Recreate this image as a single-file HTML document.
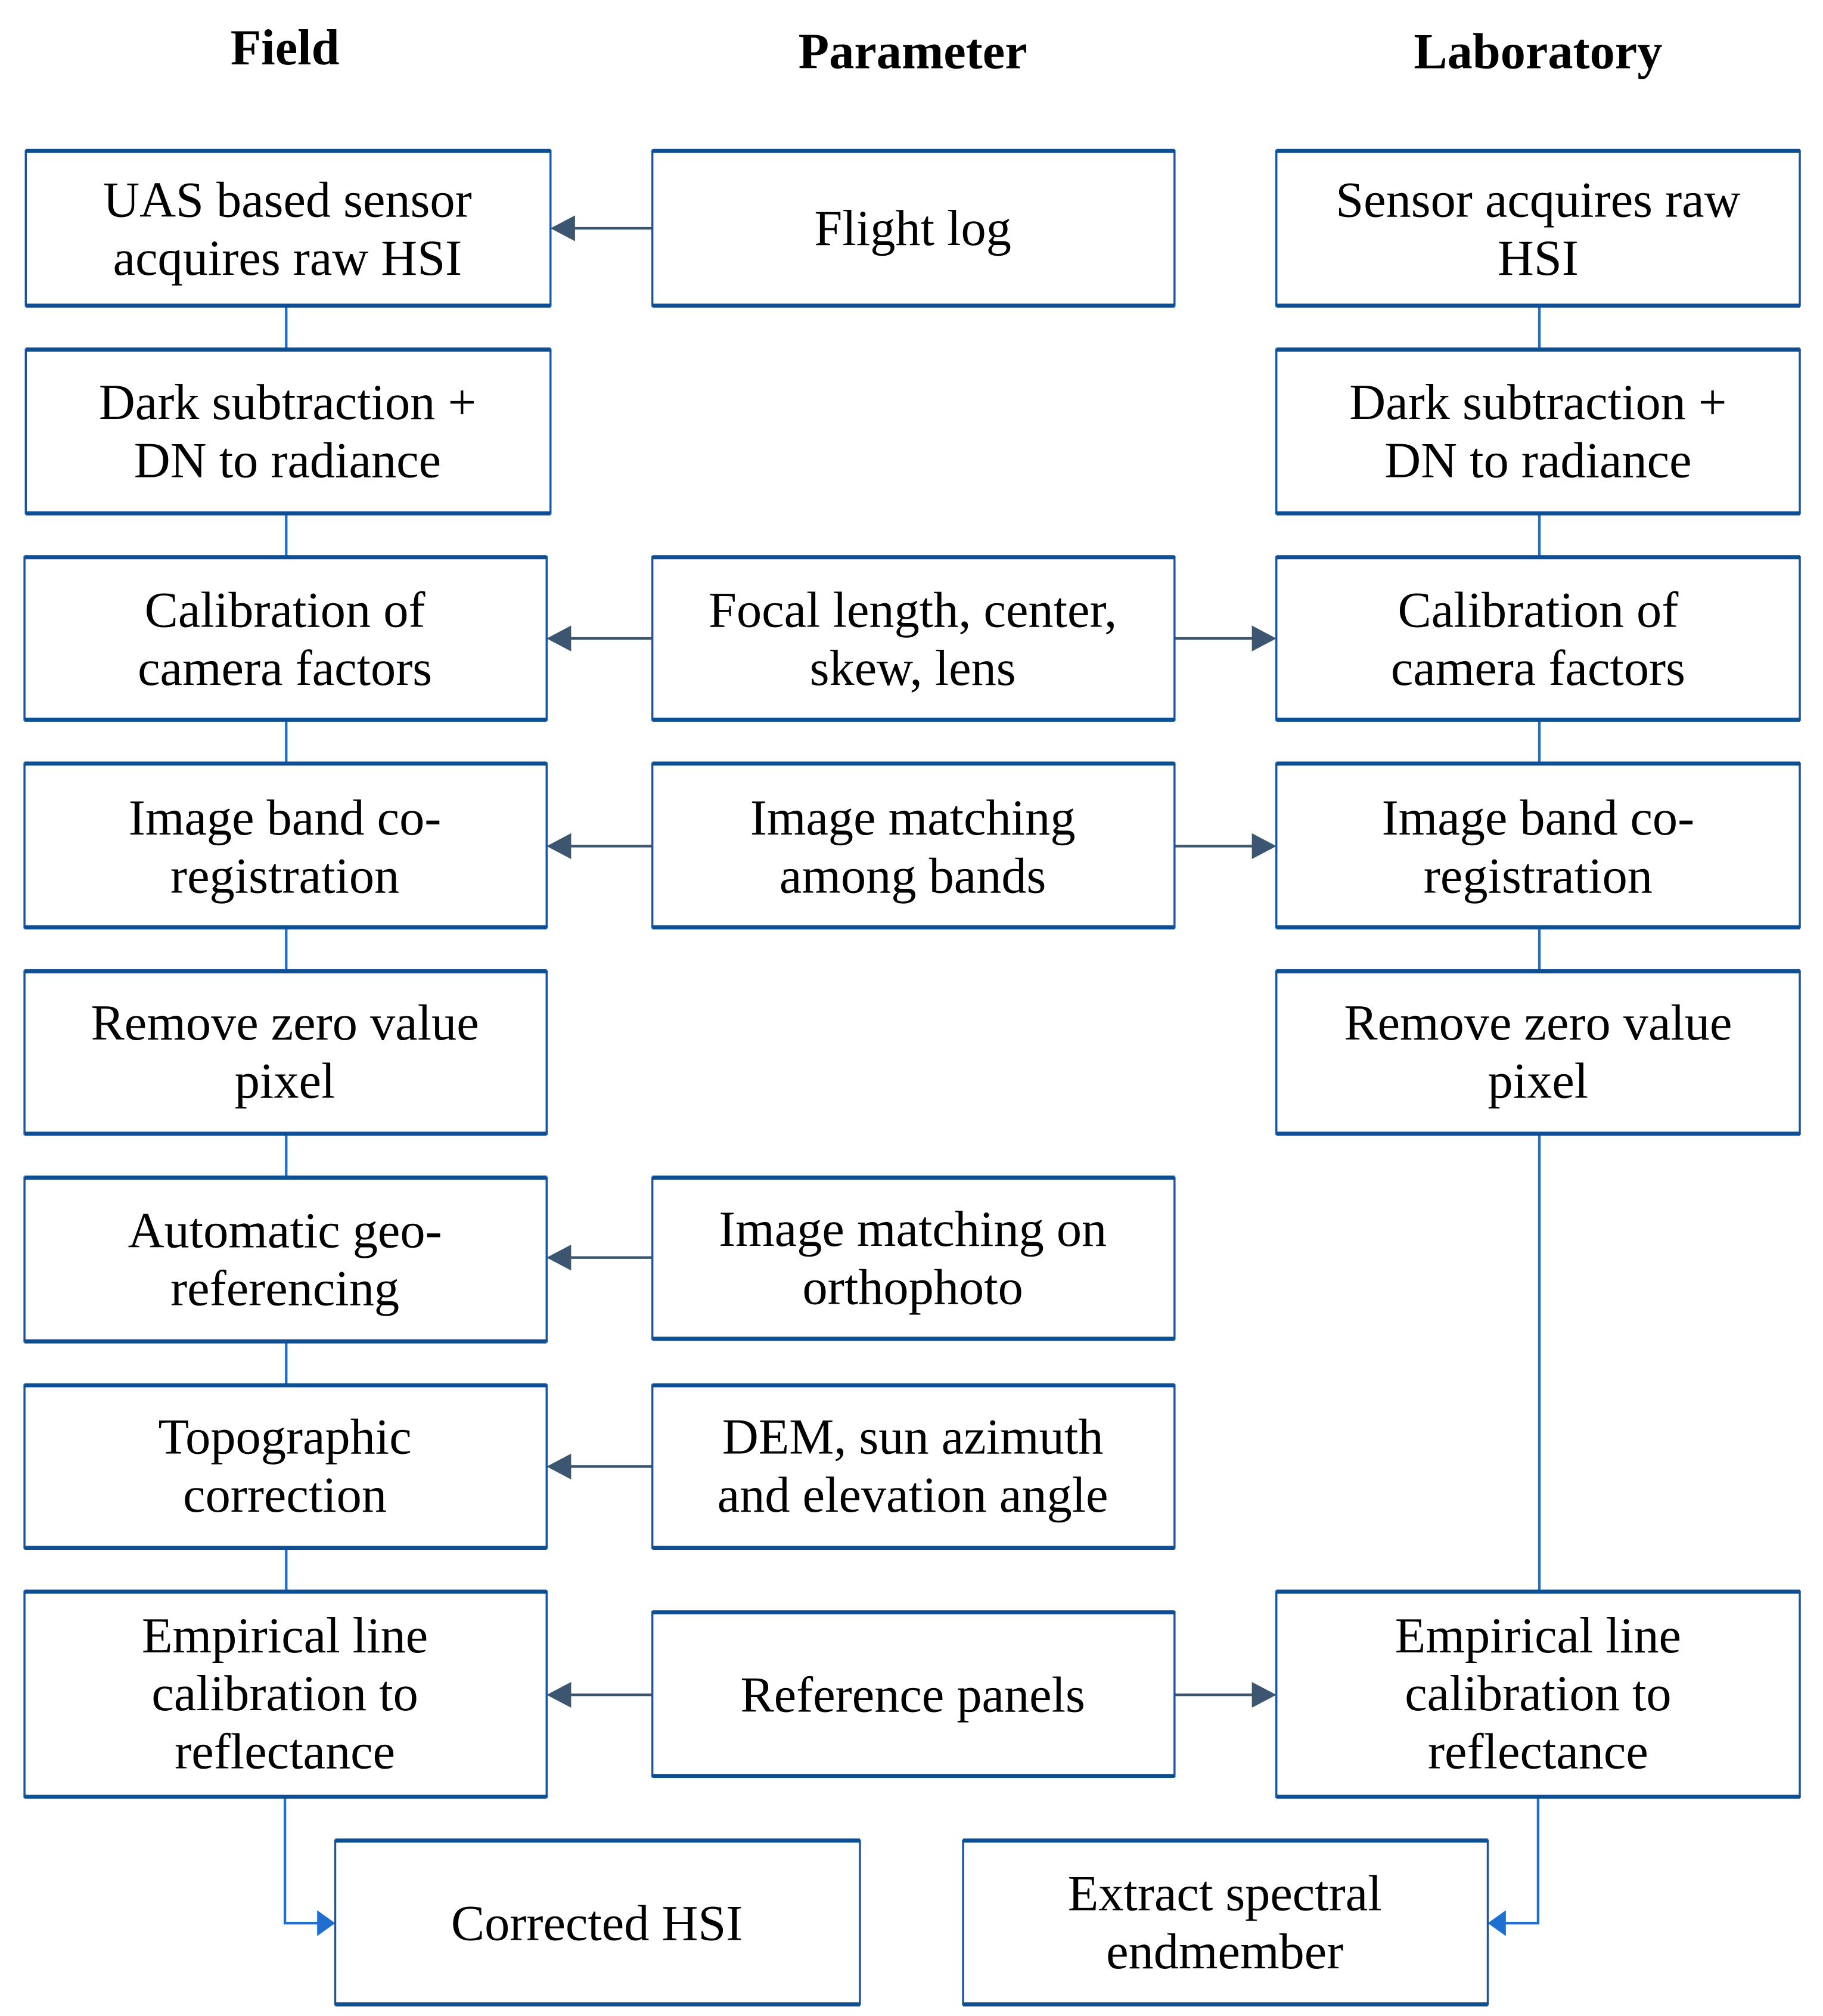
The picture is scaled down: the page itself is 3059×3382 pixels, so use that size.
<!DOCTYPE html>
<html><head><meta charset="utf-8"><style>
html,body{margin:0;padding:0;background:#fff;}
svg{display:block;}
text{font-family:"Liberation Serif",serif;fill:#000;text-anchor:middle;}
.t{font-size:39px;}
.h{font-size:39px;font-weight:bold;}
.b{fill:#fff;stroke:#1a56a0;stroke-width:1.6;}
.tb{stroke:#0e4f93;stroke-width:3.2;}
.c{stroke:#1f6fd0;stroke-width:2;fill:none;}
.p{stroke:#3c5570;stroke-width:2;fill:none;}
.pa{fill:#3c5570;}
.ba{fill:#1f6fd0;}
</style></head><body>
<svg width="3059" height="3382" viewBox="0 0 1414 1563" preserveAspectRatio="none" xmlns="http://www.w3.org/2000/svg">
<text class="h" x="221" y="50">Field</text>
<text class="h" x="708" y="53">Parameter</text>
<text class="h" x="1193" y="53">Laboratory</text>

<!-- vertical connectors -->
<line class="c" x1="222" y1="237" x2="222" y2="1234"/>
<line class="c" x1="1194" y1="237" x2="1194" y2="1234"/>
<polyline class="c" points="221,1393 221,1491 250,1491"/>
<polygon class="ba" points="260,1491 246,1481 246,1501"/>
<polyline class="c" points="1193,1393 1193,1491 1164,1491"/>
<polygon class="ba" points="1154,1491 1168,1481 1168,1501"/>

<!-- param arrows -->
<g>
<line class="p" x1="506" y1="177" x2="440" y2="177"/><polygon class="pa" points="427,177 446,167 446,187"/>
<line class="p" x1="506" y1="495" x2="437" y2="495"/><polygon class="pa" points="424,495 443,485 443,505"/>
<line class="p" x1="911" y1="495" x2="977" y2="495"/><polygon class="pa" points="990,495 971,485 971,505"/>
<line class="p" x1="506" y1="656" x2="437" y2="656"/><polygon class="pa" points="424,656 443,646 443,666"/>
<line class="p" x1="911" y1="656" x2="977" y2="656"/><polygon class="pa" points="990,656 971,646 971,666"/>
<line class="p" x1="506" y1="975" x2="437" y2="975"/><polygon class="pa" points="424,975 443,965 443,985"/>
<line class="p" x1="506" y1="1137" x2="437" y2="1137"/><polygon class="pa" points="424,1137 443,1127 443,1147"/>
<line class="p" x1="506" y1="1314" x2="437" y2="1314"/><polygon class="pa" points="424,1314 443,1304 443,1324"/>
<line class="p" x1="911" y1="1314" x2="977" y2="1314"/><polygon class="pa" points="990,1314 971,1304 971,1324"/>
</g>

<!-- boxes helper: rect + thick top/bottom -->
<g id="boxes">
<!-- field -->
<rect class="b" x="20" y="117" width="407" height="120"/><line class="tb" x1="20" y1="117" x2="427" y2="117"/><line class="tb" x1="20" y1="237" x2="427" y2="237"/>
<rect class="b" x="20" y="271" width="407" height="127"/><line class="tb" x1="20" y1="271" x2="427" y2="271"/><line class="tb" x1="20" y1="398" x2="427" y2="398"/>
<rect class="b" x="19" y="432" width="405" height="126"/><line class="tb" x1="19" y1="432" x2="424" y2="432"/><line class="tb" x1="19" y1="558" x2="424" y2="558"/>
<rect class="b" x="19" y="592" width="405" height="127"/><line class="tb" x1="19" y1="592" x2="424" y2="592"/><line class="tb" x1="19" y1="719" x2="424" y2="719"/>
<rect class="b" x="19" y="753" width="405" height="126"/><line class="tb" x1="19" y1="753" x2="424" y2="753"/><line class="tb" x1="19" y1="879" x2="424" y2="879"/>
<rect class="b" x="19" y="913" width="405" height="127"/><line class="tb" x1="19" y1="913" x2="424" y2="913"/><line class="tb" x1="19" y1="1040" x2="424" y2="1040"/>
<rect class="b" x="19" y="1074" width="405" height="126"/><line class="tb" x1="19" y1="1074" x2="424" y2="1074"/><line class="tb" x1="19" y1="1200" x2="424" y2="1200"/>
<rect class="b" x="19" y="1234" width="405" height="159"/><line class="tb" x1="19" y1="1234" x2="424" y2="1234"/><line class="tb" x1="19" y1="1393" x2="424" y2="1393"/>
<!-- param -->
<rect class="b" x="506" y="117" width="405" height="120"/><line class="tb" x1="506" y1="117" x2="911" y2="117"/><line class="tb" x1="506" y1="237" x2="911" y2="237"/>
<rect class="b" x="506" y="432" width="405" height="126"/><line class="tb" x1="506" y1="432" x2="911" y2="432"/><line class="tb" x1="506" y1="558" x2="911" y2="558"/>
<rect class="b" x="506" y="592" width="405" height="127"/><line class="tb" x1="506" y1="592" x2="911" y2="592"/><line class="tb" x1="506" y1="719" x2="911" y2="719"/>
<rect class="b" x="506" y="913" width="405" height="125"/><line class="tb" x1="506" y1="913" x2="911" y2="913"/><line class="tb" x1="506" y1="1038" x2="911" y2="1038"/>
<rect class="b" x="506" y="1074" width="405" height="126"/><line class="tb" x1="506" y1="1074" x2="911" y2="1074"/><line class="tb" x1="506" y1="1200" x2="911" y2="1200"/>
<rect class="b" x="506" y="1250" width="405" height="127"/><line class="tb" x1="506" y1="1250" x2="911" y2="1250"/><line class="tb" x1="506" y1="1377" x2="911" y2="1377"/>
<!-- lab -->
<rect class="b" x="990" y="117" width="406" height="120"/><line class="tb" x1="990" y1="117" x2="1396" y2="117"/><line class="tb" x1="990" y1="237" x2="1396" y2="237"/>
<rect class="b" x="990" y="271" width="406" height="127"/><line class="tb" x1="990" y1="271" x2="1396" y2="271"/><line class="tb" x1="990" y1="398" x2="1396" y2="398"/>
<rect class="b" x="990" y="432" width="406" height="126"/><line class="tb" x1="990" y1="432" x2="1396" y2="432"/><line class="tb" x1="990" y1="558" x2="1396" y2="558"/>
<rect class="b" x="990" y="592" width="406" height="127"/><line class="tb" x1="990" y1="592" x2="1396" y2="592"/><line class="tb" x1="990" y1="719" x2="1396" y2="719"/>
<rect class="b" x="990" y="753" width="406" height="126"/><line class="tb" x1="990" y1="753" x2="1396" y2="753"/><line class="tb" x1="990" y1="879" x2="1396" y2="879"/>
<rect class="b" x="990" y="1234" width="406" height="159"/><line class="tb" x1="990" y1="1234" x2="1396" y2="1234"/><line class="tb" x1="990" y1="1393" x2="1396" y2="1393"/>
<!-- bottom -->
<rect class="b" x="260" y="1427" width="407" height="127"/><line class="tb" x1="260" y1="1427" x2="667" y2="1427"/><line class="tb" x1="260" y1="1554" x2="667" y2="1554"/>
<rect class="b" x="747" y="1427" width="407" height="127"/><line class="tb" x1="747" y1="1427" x2="1154" y2="1427"/><line class="tb" x1="747" y1="1554" x2="1154" y2="1554"/>
</g>

<!-- texts -->
<g class="t">
<text class="t" x="223" y="168">UAS based sensor</text><text class="t" x="223" y="213">acquires raw HSI</text>
<text class="t" x="223" y="325">Dark subtraction +</text><text class="t" x="223" y="370">DN to radiance</text>
<text class="t" x="221" y="486">Calibration of</text><text class="t" x="221" y="531">camera factors</text>
<text class="t" x="221" y="647">Image band co-</text><text class="t" x="221" y="692">registration</text>
<text class="t" x="221" y="806">Remove zero value</text><text class="t" x="221" y="851">pixel</text>
<text class="t" x="221" y="967">Automatic geo-</text><text class="t" x="221" y="1012">referencing</text>
<text class="t" x="221" y="1127">Topographic</text><text class="t" x="221" y="1172">correction</text>
<text class="t" x="221" y="1281">Empirical line</text><text class="t" x="221" y="1326">calibration to</text><text class="t" x="221" y="1371">reflectance</text>

<text class="t" x="708" y="190">Flight log</text>
<text class="t" x="708" y="486">Focal length, center,</text><text class="t" x="708" y="531">skew, lens</text>
<text class="t" x="708" y="647">Image matching</text><text class="t" x="708" y="692">among bands</text>
<text class="t" x="708" y="966">Image matching on</text><text class="t" x="708" y="1011">orthophoto</text>
<text class="t" x="708" y="1127">DEM, sun azimuth</text><text class="t" x="708" y="1172">and elevation angle</text>
<text class="t" x="708" y="1327">Reference panels</text>

<text class="t" x="1193" y="168">Sensor acquires raw</text><text class="t" x="1193" y="213">HSI</text>
<text class="t" x="1193" y="325">Dark subtraction +</text><text class="t" x="1193" y="370">DN to radiance</text>
<text class="t" x="1193" y="486">Calibration of</text><text class="t" x="1193" y="531">camera factors</text>
<text class="t" x="1193" y="647">Image band co-</text><text class="t" x="1193" y="692">registration</text>
<text class="t" x="1193" y="806">Remove zero value</text><text class="t" x="1193" y="851">pixel</text>
<text class="t" x="1193" y="1281">Empirical line</text><text class="t" x="1193" y="1326">calibration to</text><text class="t" x="1193" y="1371">reflectance</text>

<text class="t" x="463" y="1504">Corrected HSI</text>
<text class="t" x="950" y="1481">Extract spectral</text><text class="t" x="950" y="1526">endmember</text>
</g>
</svg>
</body></html>
